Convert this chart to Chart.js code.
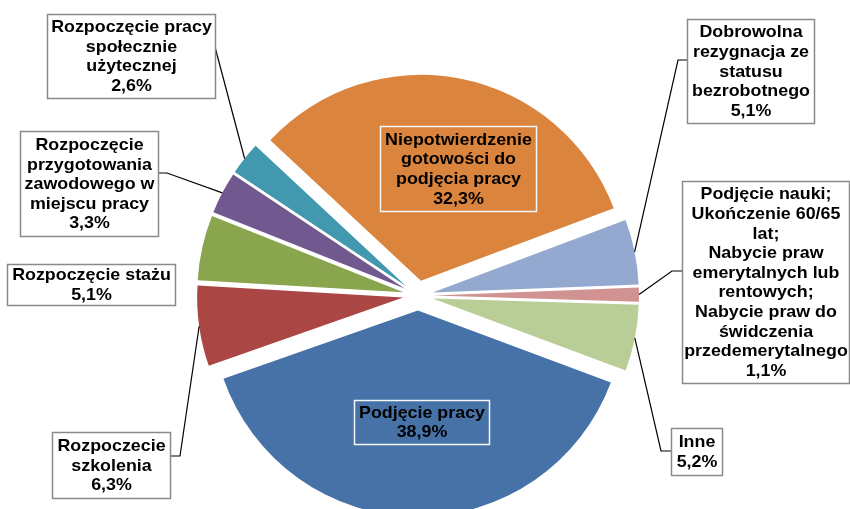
<!DOCTYPE html>
<html>
<head>
<meta charset="utf-8">
<script src="https://cdn.jsdelivr.net/npm/chart.js@4.4.0/dist/chart.umd.min.js"></script>
<style>
  body { margin: 0; background: #fff; }
  canvas { display: block; }
</style>
</head>
<body>
<canvas id="myChart" width="850" height="509"></canvas>
<script>
var categories = [
    "Niepotwierdzenie gotowości do podjęcia pracy",
    "Dobrowolna rezygnacja ze statusu bezrobotnego",
    "Podjęcie nauki; Ukończenie 60/65 lat; Nabycie praw emerytalnych lub rentowych; Nabycie praw do świdczenia przedemerytalnego",
    "Inne",
    "Podjęcie pracy",
    "Rozpoczecie szkolenia",
    "Rozpoczęcie stażu",
    "Rozpoczęcie przygotowania zawodowego w miejscu pracy",
    "Rozpoczęcie pracy społecznie użytecznej"
];
var values = [32.3, 5.1, 1.1, 5.2, 38.9, 6.3, 5.1, 3.3, 2.6];
var colors = ["#DB843D", "#93A9CF", "#D19392", "#B9CD96", "#4672A7", "#AA4643", "#89A54E", "#71588F", "#4198AF"];

// how each category name is wrapped inside its label box
var labelLines = [
    ["Niepotwierdzenie", "gotowości do", "podjęcia pracy"],
    ["Dobrowolna", "rezygnacja ze", "statusu", "bezrobotnego"],
    ["Podjęcie nauki;", "Ukończenie 60/65", "lat;", "Nabycie praw", "emerytalnych lub", "rentowych;", "Nabycie praw do", "świdczenia", "przedemerytalnego"],
    ["Inne"],
    ["Podjęcie pracy"],
    ["Rozpoczecie", "szkolenia"],
    ["Rozpoczęcie stażu"],
    ["Rozpoczęcie", "przygotowania", "zawodowego w", "miejscu pracy"],
    ["Rozpoczęcie pracy", "społecznie", "użytecznej"]
];

// label box layout: [left, top, width, height], leader: [side, y, elbow] or null, inside = box on slice
var boxLayout = [
    { r: [380, 126, 156, 85], leader: null, inside: true },
    { r: [687, 19, 127, 104], leader: ["left", 60, 9] },
    { r: [682, 181, 167, 202], leader: ["left", 271, 10] },
    { r: [671, 428, 51, 47], leader: ["left", 451, 10] },
    { r: [354, 400, 135, 44], leader: null, inside: true },
    { r: [52, 432, 118, 66], leader: ["right", 456, 10] },
    { r: [7, 264, 168, 41], leader: null },
    { r: [20, 131, 138, 105], leader: ["right", 173, 9] },
    { r: [47, 14, 168, 84], leader: ["right", 47, 0] }
];

var EXPLODE = 15;
var LINE_H = 19.6;
var TEXT_STRETCH = 1.05;

var explodePlugin = {
    id: "explode",
    beforeDatasetDraw: function(chart, args) {
        var ctx = chart.ctx;
        args.meta.data.forEach(function(arc) {
            var mid = (arc.startAngle + arc.endAngle) / 2;
            ctx.save();
            ctx.translate(Math.cos(mid) * EXPLODE, Math.sin(mid) * EXPLODE);
            arc.draw(ctx);
            ctx.restore();
        });
        return false;
    }
};

var labelPlugin = {
    id: "boxLabels",
    afterDatasetsDraw: function(chart) {
        var ctx = chart.ctx;
        var arcs = chart.getDatasetMeta(0).data;
        ctx.save();
        ctx.font = "bold 17px 'Liberation Sans', Arial, sans-serif";
        ctx.textAlign = "center";
        ctx.textBaseline = "middle";
        arcs.forEach(function(arc, i) {
            var b = boxLayout[i];
            var r = b.r;
            var lines = labelLines[i].concat([values[i].toFixed(1).replace(".", ",") + "%"]);

            // leader line from box to outer edge of the slice
            if (b.leader) {
                var mid = (arc.startAngle + arc.endAngle) / 2;
                var ex = arc.x + Math.cos(mid) * (arc.outerRadius + EXPLODE);
                var ey = arc.y + Math.sin(mid) * (arc.outerRadius + EXPLODE);
                var sx = b.leader[0] === "left" ? r[0] : r[0] + r[2];
                var sy = b.leader[1];
                var kx = b.leader[0] === "left" ? sx - b.leader[2] : sx + b.leader[2];
                ctx.beginPath();
                ctx.moveTo(sx, sy);
                ctx.lineTo(kx, sy);
                ctx.lineTo(ex, ey);
                ctx.strokeStyle = "#000";
                ctx.lineWidth = 1.2;
                ctx.stroke();
            }

            if (!b.inside) {
                ctx.fillStyle = "#fff";
                ctx.fillRect(r[0], r[1], r[2], r[3]);
            }
            ctx.strokeStyle = b.inside ? "#f7f7f7" : "#8a8a8a";
            ctx.lineWidth = 1.5;
            ctx.strokeRect(r[0] + 0.5, r[1] + 0.5, r[2], r[3]);

            ctx.fillStyle = "#000";
            var cx = r[0] + r[2] / 2 + 0.5;
            var top = r[1] + r[3] / 2 - (lines.length * LINE_H) / 2 + LINE_H / 2 + 1;
            lines.forEach(function(t, j) {
                ctx.save();
                ctx.translate(cx, top + j * LINE_H);
                ctx.scale(TEXT_STRETCH, 1);
                ctx.fillText(t, 0, 0);
                ctx.restore();
            });
        });
        ctx.restore();
    }
};

document.addEventListener("DOMContentLoaded", function() {
    var ctx = document.getElementById("myChart").getContext("2d");
    var data = {
        labels: categories,
        datasets: [{
            data: values,
            backgroundColor: colors,
            borderWidth: 0
        }]
    };

    var myPieChart = new Chart(ctx, {
        type: "pie",
        data: data,
        plugins: [explodePlugin, labelPlugin],
        options: {
            responsive: false,
            animation: false,
            events: [],
            rotation: -47,
            radius: 206,
            layout: { padding: { left: 0, right: 14, top: 82, bottom: 0 } },
            plugins: {
                legend: { display: false },
                tooltip: { enabled: false }
            }
        }
    });
});
</script>
</body>
</html>
